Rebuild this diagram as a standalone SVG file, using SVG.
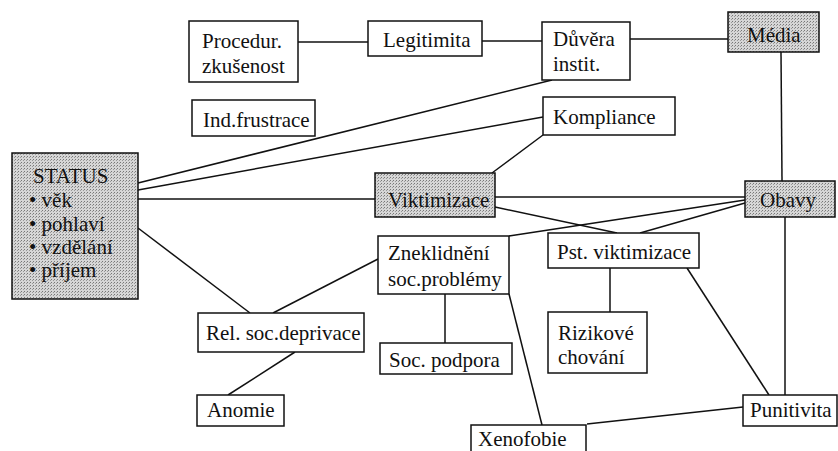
<svg xmlns="http://www.w3.org/2000/svg" width="838" height="451" viewBox="0 0 838 451">
<defs>
<pattern id="ht" width="3" height="3" patternUnits="userSpaceOnUse">
<rect width="3" height="3" fill="#d6d6d6"/>
<rect x="0" y="0" width="1" height="1" fill="#777"/>
<rect x="2" y="1" width="1" height="1" fill="#999"/>
</pattern>
</defs>
<style>
rect.b{fill:#fff;stroke:#111;stroke-width:1.5}
rect.s{fill:url(#ht);stroke:#111;stroke-width:1.5}
text{font-family:"Liberation Serif","Times New Roman",serif;font-size:21px;fill:#111}
#connectors line{stroke:#111;stroke-width:1.5}
</style>
<rect width="838" height="451" fill="#fff"/>
<g id="connectors">
<line x1="298" y1="42" x2="368" y2="42"/>
<line x1="482" y1="41" x2="542" y2="41"/>
<line x1="630" y1="39" x2="728" y2="39"/>
<line x1="138" y1="183" x2="552" y2="80"/>
<line x1="138" y1="190" x2="543" y2="117"/>
<line x1="138" y1="199" x2="375" y2="199"/>
<line x1="138" y1="228" x2="250" y2="313"/>
<line x1="543" y1="135" x2="492" y2="173"/>
<line x1="781" y1="52" x2="782" y2="181"/>
<line x1="495" y1="197" x2="745" y2="197"/>
<line x1="495" y1="207" x2="617" y2="233"/>
<line x1="745" y1="200" x2="509" y2="236"/>
<line x1="745" y1="203" x2="640" y2="233"/>
<line x1="378" y1="259" x2="273" y2="313"/>
<line x1="445" y1="294" x2="445" y2="343"/>
<line x1="509" y1="294" x2="542" y2="425"/>
<line x1="295" y1="352" x2="228" y2="395"/>
<line x1="610" y1="268" x2="610" y2="312"/>
<line x1="687" y1="268" x2="769" y2="395"/>
<line x1="785" y1="217" x2="785" y2="395"/>
<line x1="743" y1="407" x2="587" y2="424"/>
</g>
<g id="procedur"><rect class="b" x="189" y="21" width="109" height="61"/><text x="202" y="48">Procedur.</text><text x="202" y="73">zkušenost</text></g>
<g id="legitimita"><rect class="b" x="368" y="21" width="114" height="35"/><text x="383" y="47">Legitimita</text></g>
<g id="duvera"><rect class="b" x="542" y="22" width="88" height="58"/><text x="553" y="46">Důvěra</text><text x="553" y="71">instit.</text></g>
<g id="media"><rect class="s" x="728" y="12" width="91" height="40"/><text x="747" y="42">Média</text></g>
<g id="indfrustrace"><rect class="b" x="192" y="100" width="123" height="36"/><text x="203" y="127">Ind.frustrace</text></g>
<g id="kompliance"><rect class="b" x="543" y="97" width="132" height="38"/><text x="553" y="124">Kompliance</text></g>
<g id="status"><rect class="s" x="12" y="153" width="126" height="146"/><text x="33" y="183">STATUS</text><text x="29" y="207">• věk</text><text x="29" y="231">• pohlaví</text><text x="29" y="254">• vzdělání</text><text x="29" y="277">• příjem</text></g>
<g id="viktimizace"><rect class="s" x="375" y="173" width="120" height="44"/><text x="388" y="207">Viktimizace</text></g>
<g id="obavy"><rect class="s" x="745" y="181" width="90" height="36"/><text x="760" y="207">Obavy</text></g>
<g id="zneklidneni"><rect class="b" x="378" y="236" width="131" height="58"/><text x="388" y="260">Zneklidnění</text><text x="388" y="286">soc.problémy</text></g>
<g id="pst"><rect class="b" x="548" y="233" width="151" height="35"/><text x="557" y="259">Pst. viktimizace</text></g>
<g id="rel"><rect class="b" x="198" y="313" width="166" height="39"/><text x="206" y="340">Rel. soc.deprivace</text></g>
<g id="socpodpora"><rect class="b" x="380" y="343" width="132" height="31"/><text x="389" y="367">Soc. podpora</text></g>
<g id="rizikove"><rect class="b" x="548" y="312" width="99" height="61"/><text x="558" y="340">Rizikové</text><text x="558" y="364">chování</text></g>
<g id="anomie"><rect class="b" x="197" y="395" width="87" height="31"/><text x="207" y="417">Anomie</text></g>
<g id="punitivita"><rect class="b" x="743" y="395" width="94" height="31"/><text x="750" y="417">Punitivita</text></g>
<g id="xenofobie"><rect class="b" x="471" y="425" width="115" height="32"/><text x="478" y="446">Xenofobie</text></g>
</svg>
